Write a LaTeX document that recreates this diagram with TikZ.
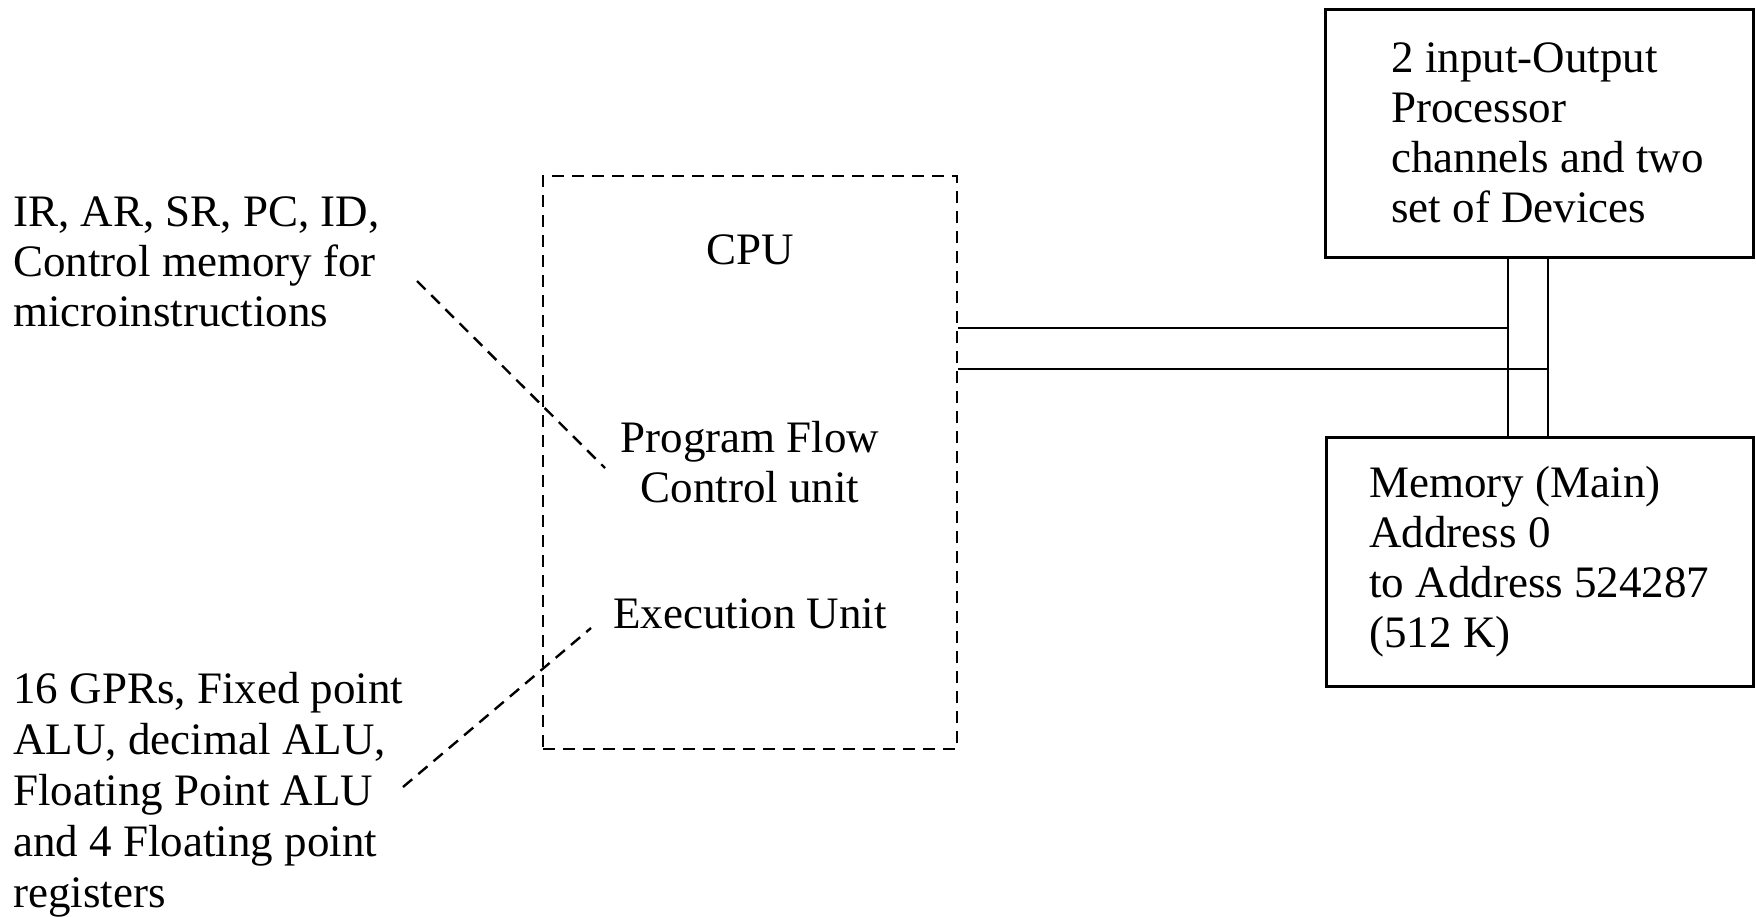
\documentclass[tikz,border=0pt]{standalone}
\usepackage{fontspec}
\setmainfont{Liberation Serif}
\begin{document}
\begin{tikzpicture}[x=0.5pt,y=-0.5pt,
  txt/.style={inner sep=0pt, align=left, font=\fontsize{22.5}{25}\selectfont},
  ctxt/.style={inner sep=0pt, align=center, font=\fontsize{22.5}{25}\selectfont},
  solidbox/.style={draw, line width=1.5pt, inner sep=0pt},
  dashbox/.style={draw, line width=1.3pt, inner sep=0pt, dash pattern=on 6pt off 4pt},
  bus/.style={line width=1.35pt},
  leader/.style={line width=1.2pt, dash pattern=on 6pt off 4pt},
]
\useasboundingbox (0,0) rectangle (1756,916);

% CPU (dashed outline) and its units
\node[dashbox, minimum width=207pt, minimum height=286.5pt] (cpu) at (750,462.5) {};
\node[ctxt, anchor=base] (cpulbl) at (750,264) {CPU};
% multi-line nodes: the base anchor sits on the last line
\node[ctxt, anchor=base] (pfc) at (750,502) {Program Flow\\Control unit};
\node[ctxt, anchor=base] (exu) at (750,628) {Execution Unit};

% I/O processor and main memory
\node[solidbox, minimum width=214pt, minimum height=124pt] (io) at (1539,133) {};
\node[txt, anchor=base west] (iotxt) at (1391,222)
  {2 input-Output\\Processor\\channels and two\\set of Devices};
\node[solidbox, minimum width=213.5pt, minimum height=124.5pt] (mem) at (1539.5,561.5) {};
\node[txt, anchor=base west] (memtxt) at (1369,647)
  {Memory (Main)\\Address 0\\to Address 524287\\(512 K)};

% side annotations
\node[txt, anchor=base west] (ann1) at (13,326)
  {IR, AR, SR, PC, ID,\\Control memory for\\microinstructions};
\node[txt, anchor=base west, font=\fontsize{22.5}{25.5}\selectfont] (ann2) at (13,907)
  {16 GPRs, Fixed point\\ALU, decimal ALU,\\Floating Point ALU\\and 4 Floating point\\registers};

% bus between CPU, I/O and memory
\coordinate (ja) at ([shift={(-31,0)}]io.south);
\coordinate (jb) at ([shift={(9,0)}]io.south);
\draw[bus] (ja) -- (ja |- mem.north);
\draw[bus] (jb) -- (jb |- mem.north);
\draw[bus] (cpu.east |- 0,328) -- (ja |- 0,328);
\draw[bus] (cpu.east |- 0,369) -- (jb |- 0,369);

% leaders from annotations to units
\coordinate (l1s) at (417,281);
\coordinate (l1e) at (605,468);
\coordinate (l2s) at (403,787);
\coordinate (l2e) at (591,628);
\draw[leader] (l1s) -- (l1e);
\draw[leader] (l2s) -- (l2e);
\end{tikzpicture}
\end{document}
